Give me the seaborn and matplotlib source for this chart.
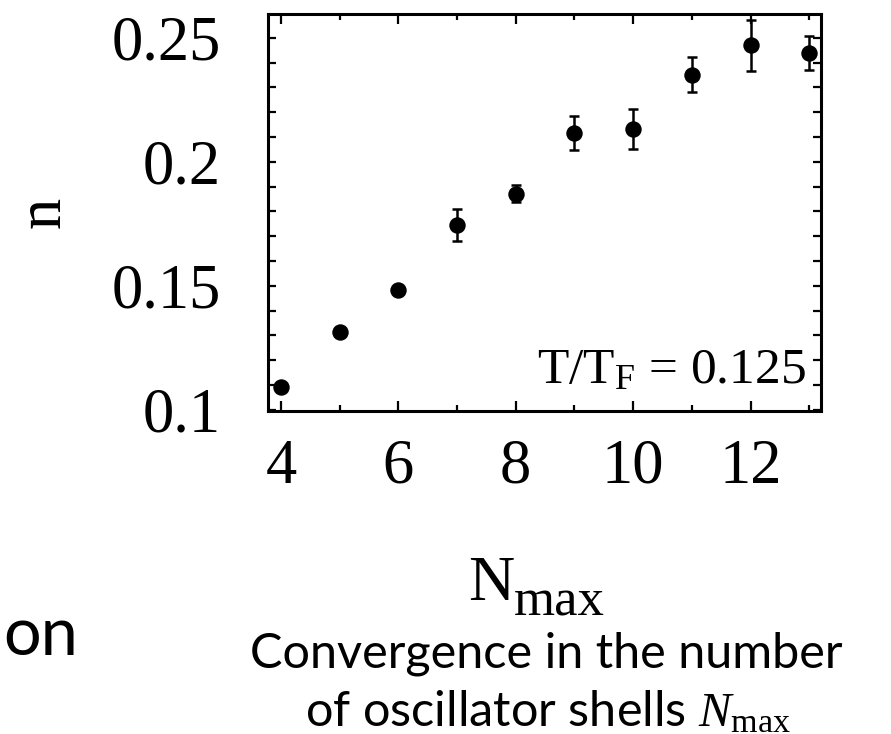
import matplotlib
matplotlib.use("Agg")
import matplotlib.pyplot as plt
from matplotlib.ticker import MultipleLocator, FixedLocator
import seaborn as sns
import pandas as pd

# data
n_max = [4, 5, 6, 7, 8, 9, 10, 11, 12, 13]
density = [0.1092, 0.1312, 0.1483, 0.1745, 0.1872, 0.2116, 0.2132, 0.2352, 0.2469, 0.2439]
density_err = [0.0004, 0.0004, 0.0009, 0.0064, 0.0035, 0.0069, 0.0081, 0.0069, 0.0104, 0.0069]
x_ticks = [4, 6, 8, 10, 12]
y_ticks = [0.1, 0.15, 0.2, 0.25]
y_tick_labels = ["0.1", "0.15", "0.2", "0.25"]

df = pd.DataFrame({"Nmax": n_max, "n": density, "err": density_err})

sns.set_theme(style="ticks")
plt.rcParams["font.family"] = ["Liberation Serif", "DejaVu Serif"]
plt.rcParams["mathtext.fontset"] = "custom"
plt.rcParams["mathtext.rm"] = "Liberation Serif"
plt.rcParams["mathtext.it"] = "Liberation Serif:italic"
plt.rcParams["mathtext.bf"] = "Liberation Serif:bold"
for key in ["text.color", "axes.labelcolor", "xtick.color", "ytick.color",
            "axes.edgecolor"]:
    plt.rcParams[key] = "black"

fig = plt.figure(figsize=(8.91, 7.34), dpi=100)
ax = fig.add_axes([268 / 891, 1 - 411 / 734, (821 - 268) / 891, (411 - 14) / 734])

ax.errorbar(df["Nmax"], df["n"], yerr=df["err"], fmt="none", ecolor="black",
            elinewidth=1.8, capsize=3.6, capthick=1.8, zorder=2)
sns.scatterplot(data=df, x="Nmax", y="n", ax=ax, color="black", s=140,
                edgecolor="black", linewidth=0, zorder=3, legend=False)

ax.set_xlim(3.78, 13.2)
ax.set_ylim(0.0995, 0.2596)
ax.xaxis.set_major_locator(FixedLocator(x_ticks))
ax.xaxis.set_minor_locator(MultipleLocator(1))
ax.set_xticklabels([str(t) for t in x_ticks])
ax.yaxis.set_major_locator(FixedLocator(y_ticks))
ax.yaxis.set_minor_locator(MultipleLocator(0.01))
ax.set_yticklabels(y_tick_labels)

ax.tick_params(which="both", direction="in", top=True, right=True,
               width=1.6, color="black", labelcolor="black")
ax.tick_params(axis="x", which="major", length=7, pad=20, labelsize=45)
ax.tick_params(axis="x", which="minor", length=4)
ax.tick_params(axis="y", which="major", length=6, pad=34, labelsize=45)
ax.tick_params(axis="y", which="minor", length=6)
for sp in ax.spines.values():
    sp.set_linewidth(2.2)
    sp.set_color("black")

ax.set_xlabel("")
ax.set_ylabel("")

ax.text(0.973, 0.0705, r"$\mathrm{T/T_F}$ = 0.125",
        transform=ax.transAxes, ha="right", va="baseline", fontsize=37)

fig.text(45 / 891, 1 - 212 / 734, "n", rotation=90, ha="center", va="center",
         fontsize=45)
fig.text(514 / 891, 1 - 600 / 734, "N", ha="right", va="baseline", fontsize=46)
fig.text(514 / 891, 1 - 616 / 734, "max", ha="left", va="baseline", fontsize=38)

sans = ["Lato", "DejaVu Sans"]
fig.text(546 / 891, 1 - 667 / 734, "Convergence in the number",
         ha="center", va="baseline", fontsize=35, family=sans)
fig.text(548 / 891, 1 - 726 / 734, r"of oscillator shells $N_{\mathrm{max}}$",
         ha="center", va="baseline", fontsize=35, family=sans)
fig.text(3 / 891, 1 - 655 / 734, "on", ha="left", va="baseline",
         fontsize=48, family=sans)

fig.savefig("out.png", dpi=100, facecolor="white")
